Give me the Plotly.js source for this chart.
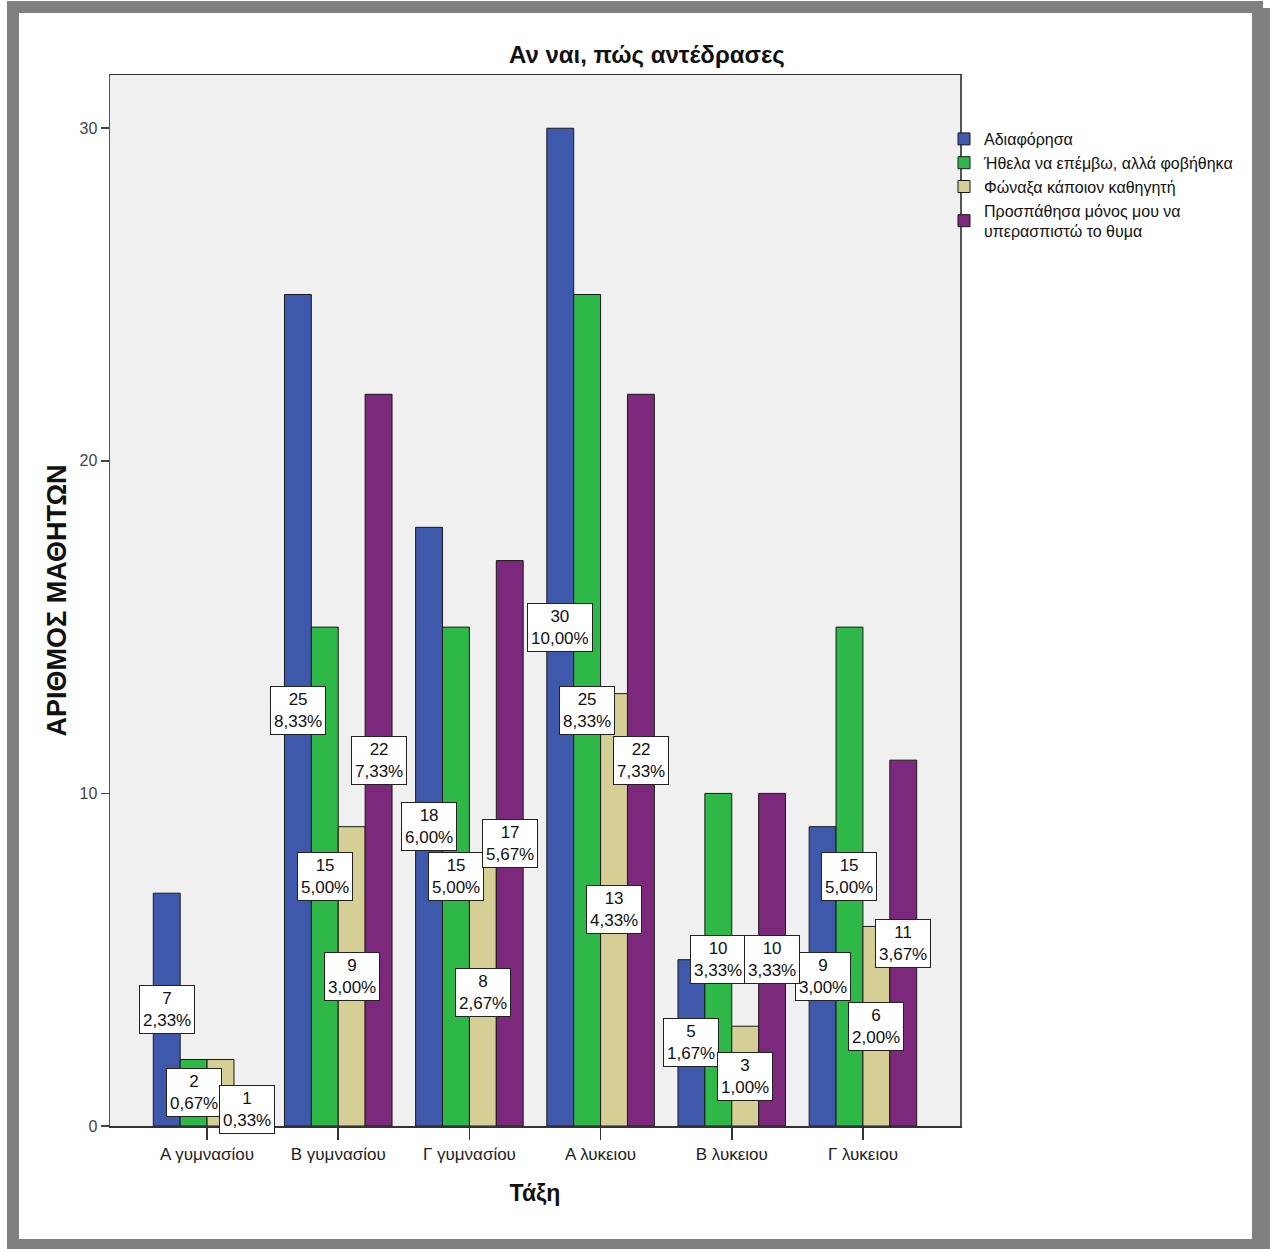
<!DOCTYPE html>
<html>
<head>
<meta charset="utf-8">
<script src="https://cdn.plot.ly/plotly-3.0.1.min.js"></script>
<style>
html, body { margin: 0; padding: 0; background: #ffffff; }
#chart { width: 1276px; height: 1249px; }
</style>
</head>
<body>
<div id="chart"></div>
<script>
// ---- data ----
const categories = ['Α γυμνασίου', 'Β γυμνασίου', 'Γ γυμνασίου', 'Α λυκειου', 'Β λυκειου', 'Γ λυκειου'];
const seriesNames = ['Αδιαφόρησα', 'Ήθελα να επέμβω, αλλά φοβήθηκα', 'Φώναξα κάποιον καθηγητή', 'Προσπάθησα μόνος μου να<br>υπερασπιστώ το θυμα'];
const adiaforisa = [7, 25, 18, 30, 5, 9];
const ithelaNaEpemvo = [2, 15, 15, 25, 10, 15];
const fonaksaKathigiti = [2, 9, 8, 13, 3, 6];
const prospathisa = [1, 22, 17, 22, 10, 11];
const totalStudents = 300;
const yTicks = [0, 10, 20, 30];
// label not printed in the original (series index, category index)
const hiddenLabels = [[2, 0]];

const seriesValues = [adiaforisa, ithelaNaEpemvo, fonaksaKathigiti, prospathisa];
const colors = ['#3e58ac', '#2eb848', '#d5cf96', '#7c287d'];

const W = 1276, H = 1249;
const M = { l: 110, r: 316, t: 75, b: 123 };
const pw = W - M.l - M.r, ph = H - M.t - M.b;
const px = x => (x - M.l) / pw;
const py = y => (H - M.b - y) / ph;

const font = '"Liberation Sans", Arial, sans-serif';

const bargap = 0.18;
const nS = seriesValues.length;
const barW = (1 - bargap) / nS;

const traces = seriesValues.map((vals, s) => ({
  type: 'bar',
  name: seriesNames[s],
  x: categories,
  y: vals,
  marker: { color: colors[s], line: { color: '#1a1a1a', width: 1 } },
  hoverinfo: 'skip'
}));

const fmtPct = v => (v / totalStudents * 100).toFixed(2).replace('.', ',') + '%';

const annotations = [];
seriesValues.forEach((vals, s) => {
  vals.forEach((v, i) => {
    if (hiddenLabels.some(h => h[0] === s && h[1] === i)) return;
    annotations.push({
      x: i + (s - (nS - 1) / 2) * barW,
      y: v / 2,
      xref: 'x', yref: 'y',
      text: v + '<br>' + fmtPct(v),
      showarrow: false,
      font: { family: font, size: 17, color: '#111' },
      bgcolor: '#ffffff',
      bordercolor: '#222',
      borderwidth: 1,
      borderpad: 3,
      align: 'center'
    });
  });
});

const gray = '#808080';
const frame = [
  [7, 1, 1263, 13],
  [7, 1, 19, 1249],
  [1252, 8, 1270, 1249],
  [7, 1239, 1270, 1249]
].map(r => ({
  type: 'rect', xref: 'paper', yref: 'paper', layer: 'above',
  x0: px(r[0]), x1: px(r[2]), y0: py(r[1]), y1: py(r[3]),
  fillcolor: gray, line: { width: 0 }
}));

const layout = {
  width: W, height: H,
  margin: M,
  paper_bgcolor: '#ffffff',
  plot_bgcolor: '#f0f0f0',
  barmode: 'group',
  bargap: bargap,
  bargroupgap: 0,
  showlegend: true,
  title: {
    text: '<b>Αν ναι, πώς αντέδρασες</b>',
    font: { family: font, size: 24, color: '#111' },
    xref: 'container', x: 0.507, xanchor: 'center',
    yref: 'container', y: 1 - 55 / H, yanchor: 'middle'
  },
  xaxis: {
    type: 'category',
    range: [-0.74, categories.length - 1 + 0.74],
    showline: true, linecolor: '#333', linewidth: 1.5, mirror: true,
    ticks: 'outside', ticklen: 12, tickcolor: '#333', tickwidth: 1.5,
    tickfont: { family: font, size: 17, color: '#222' },
    showgrid: false, zeroline: false,
    title: { text: '<b>Τάξη</b>', font: { family: font, size: 23, color: '#111' }, standoff: 22 }
  },
  yaxis: {
    range: [0, 31.6],
    tickvals: yTicks,
    showline: true, linecolor: '#555', linewidth: 1.5, mirror: true,
    ticks: 'outside', ticklen: 8, tickcolor: '#444', tickwidth: 1.5,
    tickfont: { family: font, size: 16, color: '#444' },
    showgrid: false, zeroline: false,
    title: { text: '<b>ΑΡΙΘΜΟΣ ΜΑΘΗΤΩΝ</b>', font: { family: font, size: 27, color: '#111' }, standoff: 5 }
  },
  legend: {
    x: px(944), xanchor: 'left',
    y: py(122), yanchor: 'top',
    bgcolor: 'rgba(0,0,0,0)',
    font: { family: font, size: 16, color: '#111' },
    tracegroupgap: 0,
    itemclick: false
  },
  annotations: annotations,
  shapes: frame
};

Plotly.newPlot('chart', traces, layout, { displayModeBar: false, staticPlot: true });
</script>
</body>
</html>
